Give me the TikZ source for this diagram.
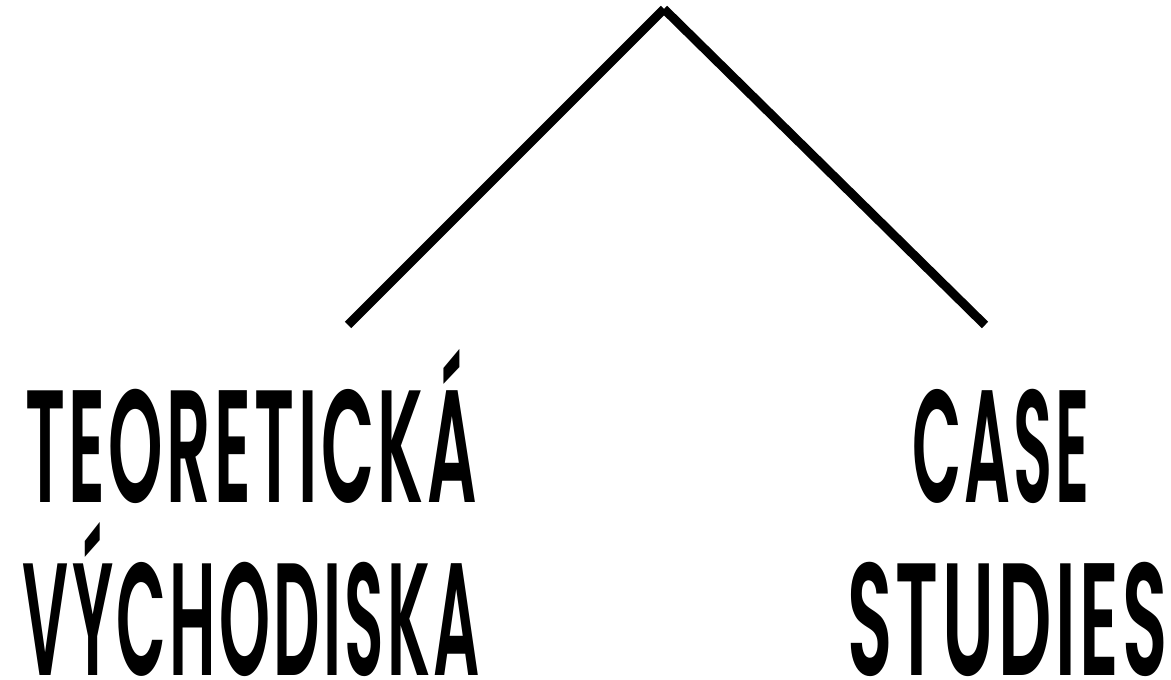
\documentclass[tikz,border=0pt]{standalone}
\usepackage{fontspec}
\setmainfont{Poppins}[UprightFont={* SemiBold}, LetterSpace=5]
\tikzset{
  branch/.style={line width=9pt, line cap=butt, black},
  label/.style={inner sep=0pt, outer sep=0pt, anchor=base west, font=\fontsize{160}{160}\selectfont}
}
\begin{document}
\begin{tikzpicture}[x=1pt,y=-1pt]
\useasboundingbox (0,0) rectangle (1171,680);
\coordinate (apex) at (664,9);
\coordinate (lend) at (348,325);
\coordinate (rend) at (985,325);
\draw[branch] (apex) -- (lend);
\draw[branch] (apex) -- (rend);
\node[label] (t1) at (25,502) {\resizebox{452pt}{\height}{TEORETICKÁ}};
\node[label] (t2) at (23,675) {\resizebox{457pt}{\height}{VÝCHODISKA}};
\node[label] (c1) at (912,502) {\resizebox{178pt}{\height}{CASE}};
\node[label] (c2) at (847,675) {\resizebox{321pt}{\height}{STUDIES}};
\end{tikzpicture}
\end{document}
